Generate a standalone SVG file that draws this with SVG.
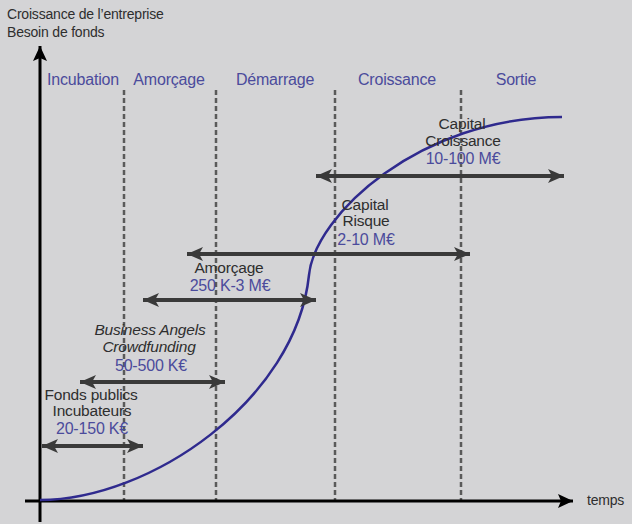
<svg xmlns="http://www.w3.org/2000/svg" width="632" height="524" viewBox="0 0 632 524">
<defs>
<style>
.t{font-family:"Liberation Sans",Arial,sans-serif;font-size:15.5px;fill:#2e2e2e;letter-spacing:-0.2px}
.b{fill:#4b4b9c;font-size:16px}
.p{font-size:16px}
.m{text-anchor:middle}
.i{font-style:italic}
.dash{stroke:#5a5a5a;stroke-width:2.5;stroke-dasharray:5 3;fill:none}
.arr{stroke:#3a3a3a;stroke-width:4;fill:none;marker-start:url(#ah);marker-end:url(#ah)}
.ax{stroke:#000;stroke-width:3;fill:none;marker-end:url(#axh)}
</style>
<marker id="ah" markerUnits="userSpaceOnUse" markerWidth="18" markerHeight="16" refX="16" refY="8" orient="auto-start-reverse">
<path d="M0,1 L16,8 L0,15 L4,8 Z" fill="#3a3a3a"/>
</marker>
<marker id="axh" markerUnits="userSpaceOnUse" markerWidth="16" markerHeight="14" refX="15" refY="7" orient="auto">
<path d="M0,0 L15,7 L0,14 L3,7 Z" fill="#000"/>
</marker>
</defs>
<rect width="632" height="524" fill="#d4d4d6"/>
<g id="title">
<text class="t" x="7" y="19" style="font-size:14px">Croissance de l’entreprise</text>
<text class="t" x="7" y="37" style="font-size:14px">Besoin de fonds</text>
</g>
<g id="phases">
<text class="t b p m" x="83" y="85">Incubation</text>
<text class="t b p m" x="169" y="85">Amorçage</text>
<text class="t b p m" x="275" y="85">Démarrage</text>
<text class="t b p m" x="397" y="85">Croissance</text>
<text class="t b p m" x="516" y="85">Sortie</text>
</g>
<g id="dividers">
<line class="dash" x1="124" y1="90" x2="124" y2="500"/>
<line class="dash" x1="216" y1="90" x2="216" y2="500"/>
<line class="dash" x1="335" y1="90" x2="335" y2="500"/>
<line class="dash" x1="461" y1="90" x2="461" y2="500"/>
</g>
<g id="axes">
<line class="ax" x1="40" y1="522" x2="40" y2="46"/>
<line class="ax" x1="25" y1="501" x2="573" y2="501"/>
<text class="t" x="587" y="505" style="font-size:14px">temps</text>
</g>
<g id="curve">
<path d="M40,500 C150,500 296,400 309,275 C315,215 420,117 562,117" fill="none" stroke="#2f2a8e" stroke-width="2.5"/>
</g>
<g id="connectors">
<line class="arr" x1="316" y1="176" x2="564" y2="176"/>
<line class="arr" x1="187" y1="254" x2="470" y2="254"/>
<line class="arr" x1="143" y1="300" x2="316" y2="300"/>
<line class="arr" x1="80" y1="382" x2="225" y2="382"/>
<line class="arr" x1="42" y1="446" x2="143" y2="446"/>
</g>
<g id="capital-croissance">
<text class="t m" x="462" y="129">Capital</text>
<text class="t m" x="463" y="146">Croissance</text>
<text class="t b m" x="463" y="164">10-100 M€</text>
</g>
<g id="capital-risque">
<text class="t m" x="365" y="210">Capital</text>
<text class="t m" x="366" y="226">Risque</text>
<text class="t b m" x="366" y="245">2-10 M€</text>
</g>
<g id="amorcage">
<text class="t m" x="229" y="273">Amorçage</text>
<text class="t b m" x="230" y="291">250 K-3 M€</text>
</g>
<g id="business-angels">
<text class="t m i" x="150" y="335">Business Angels</text>
<text class="t m i" x="149" y="352">Crowdfunding</text>
<text class="t b m" x="151" y="371">50-500 K€</text>
</g>
<g id="fonds-publics">
<text class="t m" x="91" y="400">Fonds publics</text>
<text class="t m" x="92" y="416">Incubateurs</text>
<text class="t b m" x="92" y="434">20-150 K€</text>
</g>
</svg>
